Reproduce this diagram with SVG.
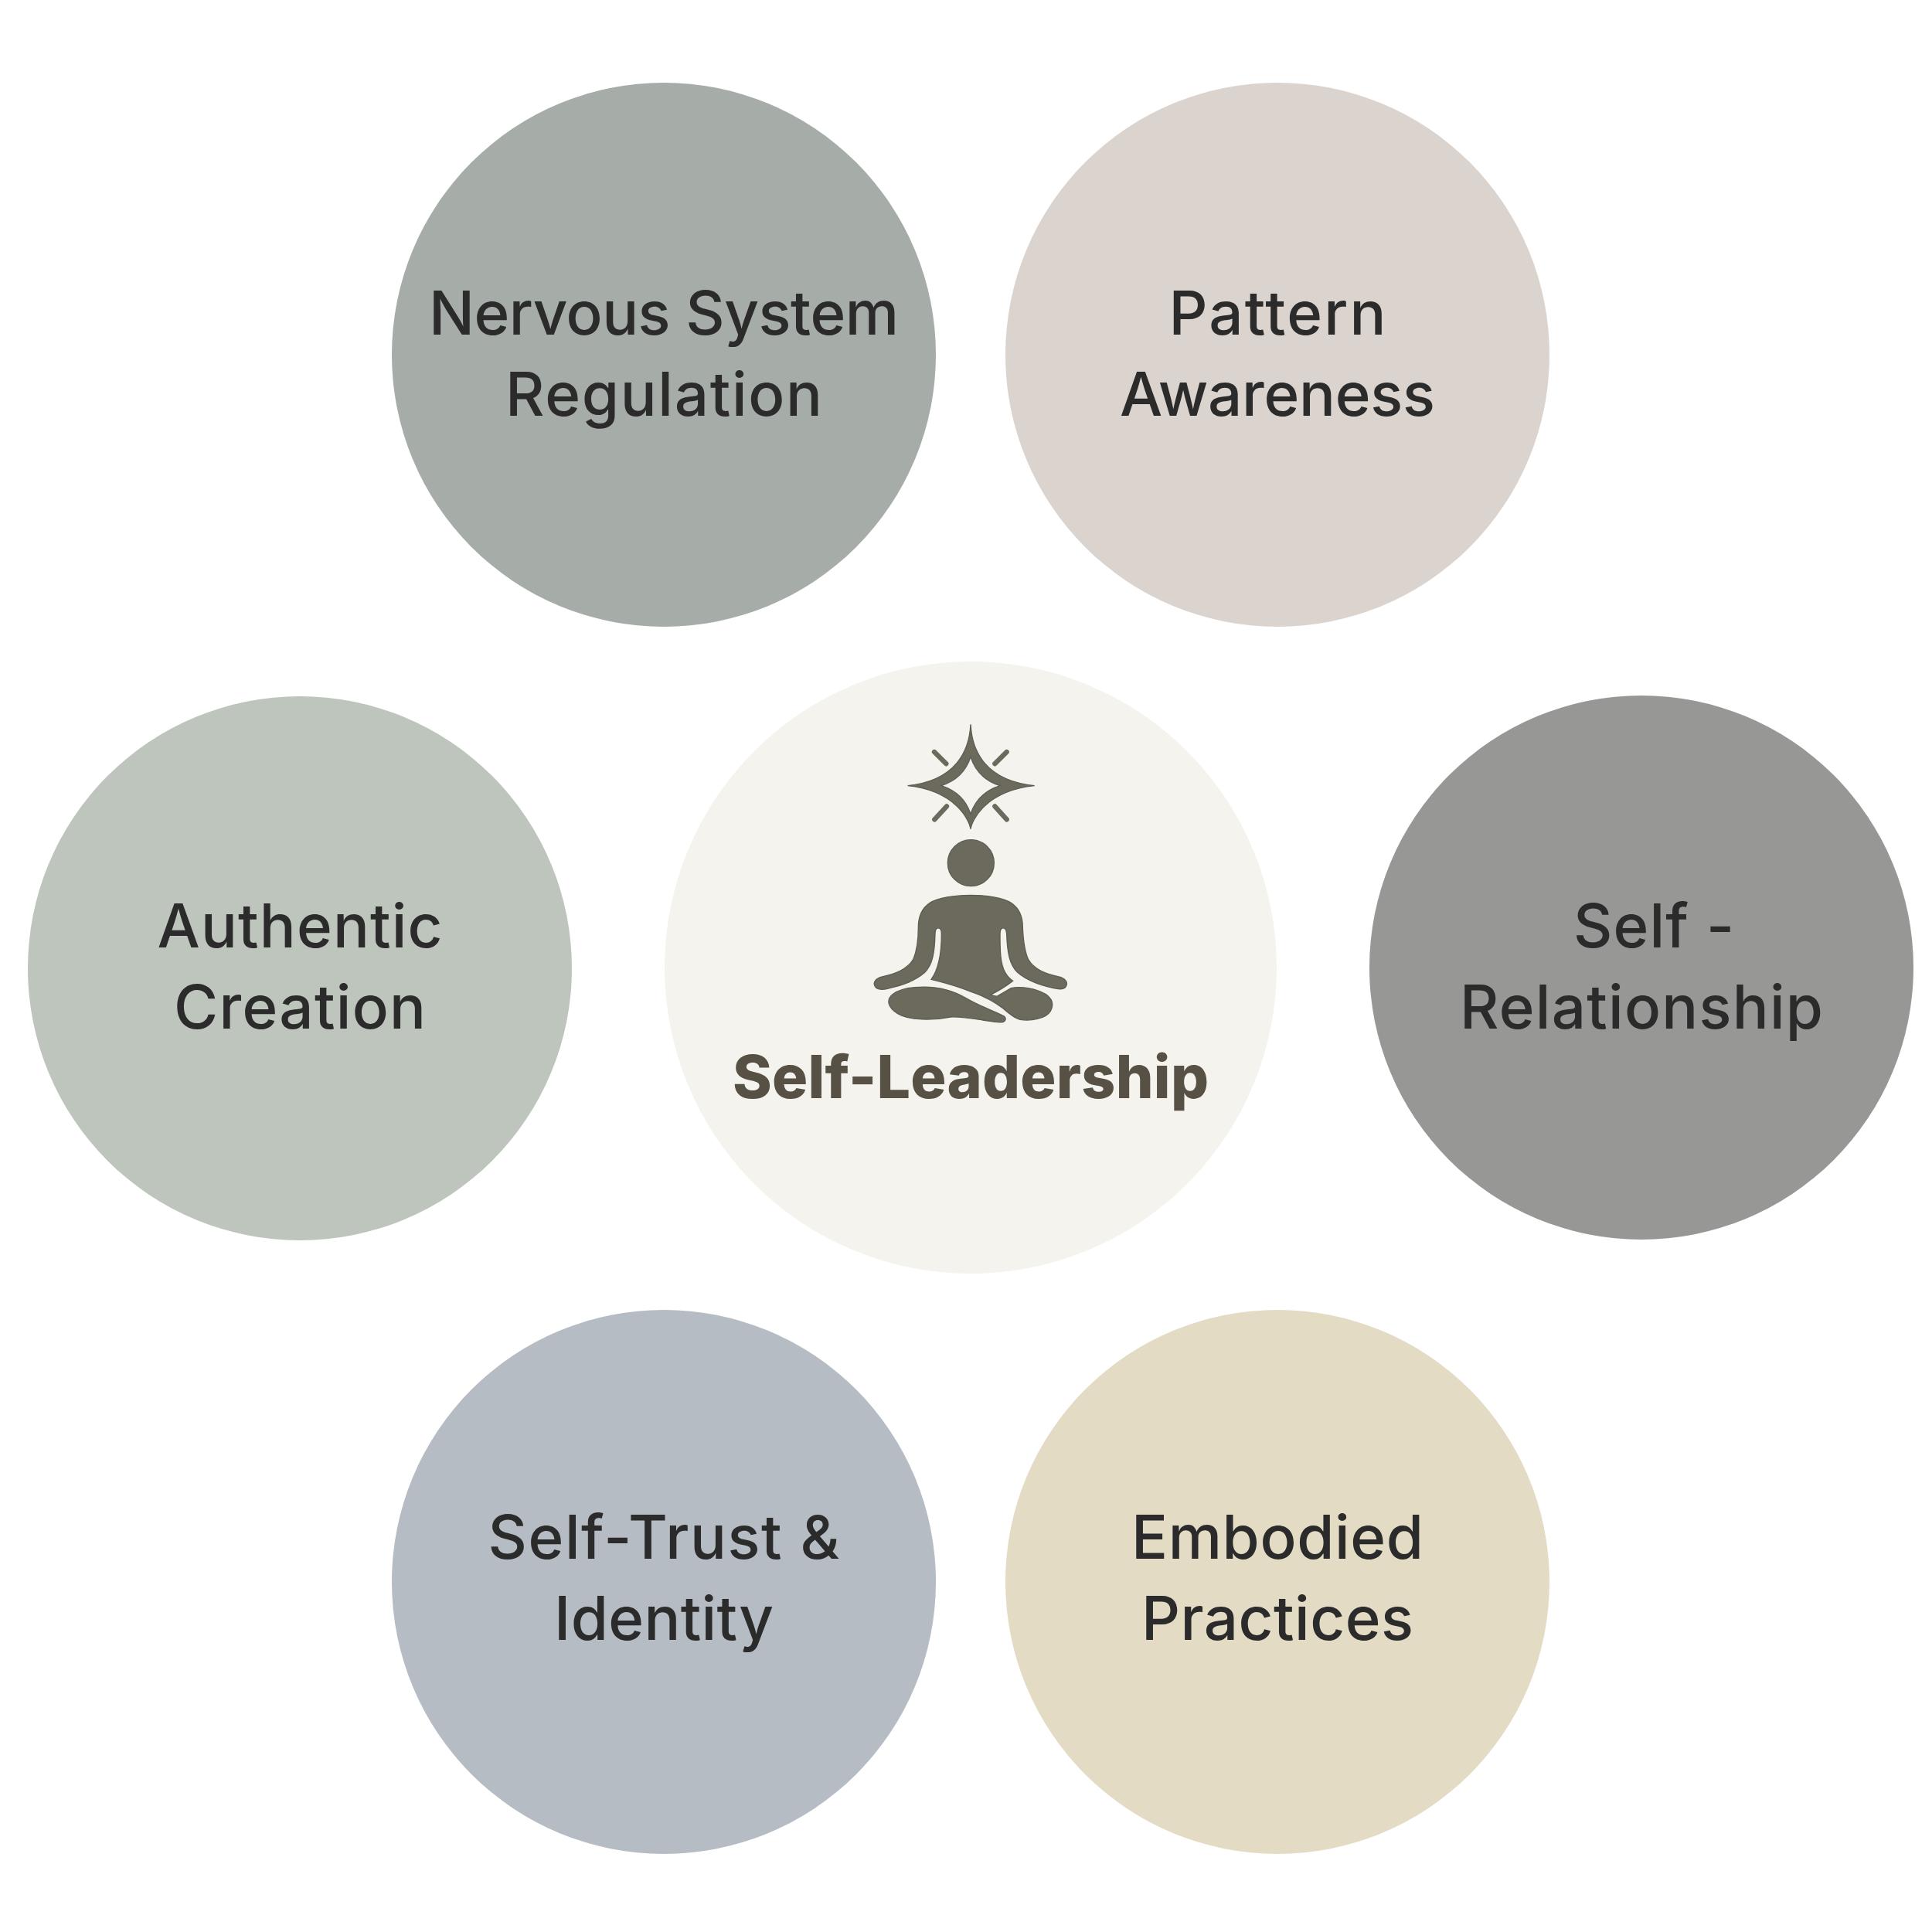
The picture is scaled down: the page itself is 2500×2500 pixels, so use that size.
<svg xmlns="http://www.w3.org/2000/svg" width="2500" height="2500" viewBox="0 0 2500 2500">
<style>
text{font-family:Inter,"Liberation Sans",sans-serif;text-anchor:middle}
.l{font-size:78px;fill:#2b2b2b;font-weight:450}
.t{font-size:77px;fill:#565144;font-weight:800}
.i{fill:#6b6a5d;stroke:#5d5d52;stroke-width:4}
</style>
<rect width="2500" height="2500" fill="#fff"/>
<g id="node-nervous"><circle cx="859" cy="459" r="352" fill="#a6aca8"/><text class="l" x="859" y="433" textLength="608" lengthAdjust="spacing">Nervous System</text><text class="l" x="859" y="538" textLength="410" lengthAdjust="spacing">Regulation</text></g>
<g id="node-pattern"><circle cx="1653" cy="459" r="352" fill="#dbd3cd"/><text class="l" x="1653" y="433" textLength="281" lengthAdjust="spacing">Pattern</text><text class="l" x="1653" y="538" textLength="408" lengthAdjust="spacing">Awareness</text></g>
<g id="node-authentic"><circle cx="388" cy="1253" r="352" fill="#bdc5bd"/><text class="l" x="388" y="1226" textLength="369" lengthAdjust="spacing">Authentic</text><text class="l" x="388" y="1331" textLength="326" lengthAdjust="spacing">Creation</text></g>
<g id="node-relationship"><circle cx="2124" cy="1252" r="352" fill="#979795"/><text class="l" x="2140" y="1226" textLength="208" lengthAdjust="spacing">Self -</text><text class="l" x="2124" y="1331" textLength="470" lengthAdjust="spacing">Relationship</text></g>
<g id="node-trust"><circle cx="859" cy="2047" r="352" fill="#b5bcc3"/><text class="l" x="859" y="2017" textLength="455" lengthAdjust="spacing">Self-Trust &amp;</text><text class="l" x="859" y="2122" textLength="284" lengthAdjust="spacing">Identity</text></g>
<g id="node-embodied"><circle cx="1653" cy="2047" r="352" fill="#e3dbc4"/><text class="l" x="1653" y="2017" textLength="378" lengthAdjust="spacing">Embodied</text><text class="l" x="1653" y="2122" textLength="352" lengthAdjust="spacing">Practices</text></g>
<g id="node-center"><circle cx="1256" cy="1252" r="396" fill="#f4f3ee"/>
<g id="icon" transform="translate(1090 900) scale(.33333)">
<path class="i" fill-rule="evenodd" d="M498 112C503 215 555 330 746 350C555 370 503 485 498 518C493 485 441 370 254 350C441 330 493 215 498 112ZM498 238C480 295 440 332 384 350C440 368 480 405 498 460C516 405 556 368 612 350C556 332 516 295 498 238Z"/>
<path d="M357 219L403 265M638 219L592 265M405 430L358 481M592 430L638 481" stroke="#6b6a5d" stroke-width="19" stroke-linecap="round" fill="none"/>
<circle class="i" cx="499" cy="650" r="90"/>
<path class="i" d="M498 775C560 775 625 785 655 805C690 828 700 860 700 900C702 950 706 990 722 1025C745 1065 790 1080 840 1092C865 1098 875 1112 870 1125C865 1140 845 1142 820 1136C770 1125 720 1110 680 1075C650 1045 640 1000 638 925C636 895 612 895 612 925C612 985 612 1040 632 1075C640 1090 650 1100 662 1108C640 1125 610 1145 575 1162L600 1168L655 1136C690 1128 750 1135 790 1160C815 1178 822 1200 808 1225C790 1255 730 1265 690 1258C668 1252 655 1240 645 1232C610 1200 560 1170 500 1150C450 1130 400 1115 345 1102C365 1075 385 1030 385 925C385 895 360 895 360 925C358 1000 350 1045 320 1075C280 1110 230 1125 175 1138C150 1145 130 1140 125 1125C120 1112 130 1098 155 1092C205 1080 250 1065 275 1025C290 990 295 950 295 900C295 860 305 828 340 805C370 785 435 775 498 775Z"/>
<path class="i" d="M280 1133C370 1125 430 1145 480 1175C530 1205 590 1225 628 1245C640 1258 630 1272 605 1268C540 1262 480 1245 420 1248C350 1262 260 1262 215 1235C175 1210 170 1180 195 1160C215 1145 250 1135 280 1133Z"/>
</g>
<text class="t" x="1256" y="1421" textLength="616" lengthAdjust="spacing">Self-Leadership</text></g>
</svg>
